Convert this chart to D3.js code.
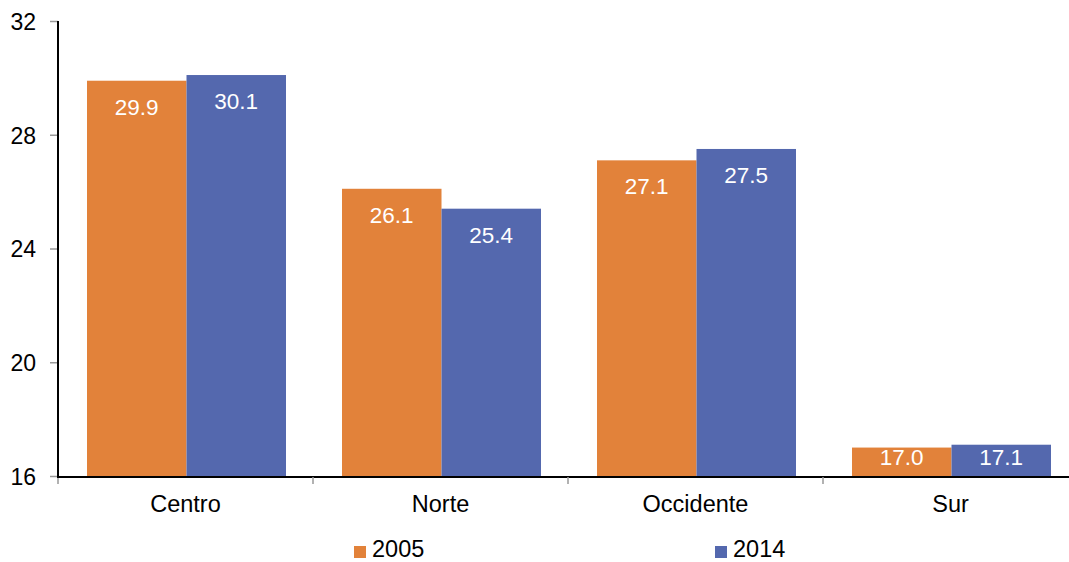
<!DOCTYPE html>
<html><head><meta charset="utf-8">
<script src="https://cdn.jsdelivr.net/npm/d3@7"></script>
<style>body{margin:0;background:#fff}svg{display:block;font-family:"Liberation Sans",Arial,Helvetica,sans-serif}</style>
</head><body><svg id="c" width="1069" height="562"></svg>
<script>
const categories = ["Centro","Norte","Occidente","Sur"];
const seriesNames = ["2005","2014"];
const values2005 = [29.9,26.1,27.1,17.0];
const values2014 = [30.1,25.4,27.5,17.1];
const yTicks = [16,20,24,28,32];
const colors = ["#E2823A","#5468AE"];

const svg = d3.select("#c");
const x0 = 58, bandW = 255;
const x = d3.scaleBand().domain(categories).range([x0, x0 + bandW*categories.length]).paddingInner(0).paddingOuter(0);
const y = d3.scaleLinear().domain([16,32]).range([476,21]);

const data = categories.map((c,i)=>({c, vals:[values2005[i], values2014[i]]}));

// y axis
const yAxis = d3.axisLeft(y).tickValues(yTicks).tickSize(8).tickFormat(d3.format("d"));
const gy = svg.append("g").attr("transform",`translate(${x0},0)`).call(yAxis);
gy.attr("font-size",null).attr("font-family",null);
gy.select(".domain").remove();
gy.selectAll(".tick line").attr("stroke","#999").attr("stroke-width",1.5);
gy.selectAll(".tick text").attr("x",-22).attr("dy","0.36em").style("font-size","23px").attr("fill","#000");

// bars
const barW = 99.5, pad = 29;
data.forEach(d=>{
  d.vals.forEach((v,j)=>{
    const bx = x(d.c) + pad + j*barW;
    const top = y(v);
    svg.append("rect").attr("x",bx).attr("y",top).attr("width",barW).attr("height",y(16)-top).attr("fill",colors[j]);
    svg.append("text").attr("x",bx+barW/2).attr("y",Math.min(top+34, y(16)-11))
      .attr("text-anchor","middle").attr("fill","#fff").style("font-size","22.5px").text(d3.format(".1f")(v));
  });
});

// x axis
const gx = svg.append("g").attr("transform","translate(0,477)");
gx.append("line").attr("x1",x0-1).attr("x2",1069).attr("stroke","#000").attr("stroke-width",2);
const xt = d3.range(categories.length+1).map(i=>x0+i*bandW);
gx.selectAll("line.t").data(xt).enter().append("line").attr("class","t")
  .attr("x1",d=>d).attr("x2",d=>d).attr("y1",0).attr("y2",7).attr("stroke","#999").attr("stroke-width",1.5);
gx.selectAll("text").data(categories).enter().append("text")
  .attr("x",d=>x(d)+bandW/2).attr("y",35).attr("text-anchor","middle").style("font-size","23.5px").attr("fill","#000").text(d=>d);
// y axis line
svg.append("line").attr("x1",x0).attr("x2",x0).attr("y1",21).attr("y2",478).attr("stroke","#000").attr("stroke-width",2);

// legend
const legX = [354,715];
seriesNames.forEach((s,i)=>{
  svg.append("rect").attr("x",legX[i]).attr("y",546).attr("width",12).attr("height",12).attr("fill",colors[i]);
  svg.append("text").attr("x",legX[i]+18).attr("y",556.5).style("font-size","23.5px").attr("fill","#000").text(s);
});
</script></body></html>
